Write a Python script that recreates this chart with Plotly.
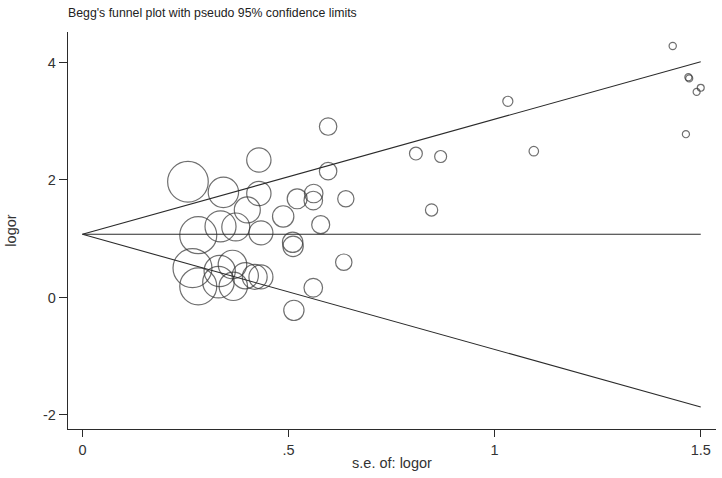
import plotly.graph_objects as go

# Study standard errors and log odds ratios
se = [0.256, 0.342, 0.428, 0.428, 0.400, 0.281, 0.335, 0.372, 0.433,
      0.267, 0.281, 0.330, 0.333, 0.364, 0.366, 0.395, 0.418, 0.433,
      0.521, 0.561, 0.560, 0.639, 0.487, 0.578, 0.510, 0.511, 0.634,
      0.560, 0.513, 0.596, 0.596,
      0.809, 0.869, 1.032, 1.095, 0.847,
      1.432, 1.470, 1.472, 1.500, 1.490, 1.464]
logor = [1.97, 1.79, 2.34, 1.77, 1.49, 1.06, 1.21, 1.20, 1.10,
         0.50, 0.19, 0.26, 0.45, 0.56, 0.19, 0.37, 0.35, 0.35,
         1.68, 1.77, 1.65, 1.68, 1.38, 1.24, 0.94, 0.87, 0.60,
         0.165, -0.22, 2.91, 2.15,
         2.45, 2.40, 3.34, 2.49, 1.49,
         4.28, 3.75, 3.73, 3.57, 3.50, 2.78]
pooled = 1.075
se_max = 1.5
x_ticks = [0, 0.5, 1, 1.5]
x_tick_labels = ["0", ".5", "1", "1.5"]
y_ticks = [-2, 0, 2, 4]
y_tick_labels = ["-2", "0", "2", "4"]

sizes = [10.4 / s for s in se]
ink = "#2b2b2b"

fig = go.Figure()
fig.add_trace(go.Scatter(
    x=se, y=logor, mode="markers",
    marker=dict(size=sizes, color="rgba(0,0,0,0)",
                line=dict(color="#333333", width=1.2)),
    showlegend=False, hoverinfo="x+y"))

for k in (1.96, 0, -1.96):
    fig.add_trace(go.Scatter(
        x=[0, se_max], y=[pooled, pooled + k * se_max], mode="lines",
        line=dict(color=ink, width=1.1), showlegend=False, hoverinfo="skip"))

fig.update_layout(
    width=722, height=478,
    paper_bgcolor="white", plot_bgcolor="white",
    margin=dict(l=68, r=6, t=32, b=49, autoexpand=False),
    font=dict(family="Arial, Liberation Sans, sans-serif", size=14.5, color="#333333"),
    title=dict(text="Begg's funnel plot with pseudo 95% confidence limits",
               xref="container", yref="container", x=68 / 722, xanchor="left",
               y=1 - 12.5 / 478, yanchor="middle",
               font=dict(size=12.3, color="#222222")),
    xaxis=dict(range=[-0.035, 1.537], tickvals=x_ticks, ticktext=x_tick_labels,
               showgrid=False, zeroline=False, showline=True, linecolor=ink,
               linewidth=1.3, ticks="outside", ticklen=7, tickcolor=ink,
               tickfont=dict(size=14.5),
               title=dict(text="s.e. of: logor", standoff=1, font=dict(size=14.5))),
    yaxis=dict(range=[-2.24, 4.52], tickvals=y_ticks, ticktext=y_tick_labels,
               showgrid=False, zeroline=False, showline=True, linecolor=ink,
               linewidth=1.3, ticks="outside", ticklen=8, tickcolor=ink,
               tickfont=dict(size=14.5),
               title=dict(text="logor", standoff=22, font=dict(size=14.5))),
)

fig.write_html("out.html", config={"displayModeBar": False},
               post_script="document.body.style.margin='0px';document.body.style.overflow='hidden';")
